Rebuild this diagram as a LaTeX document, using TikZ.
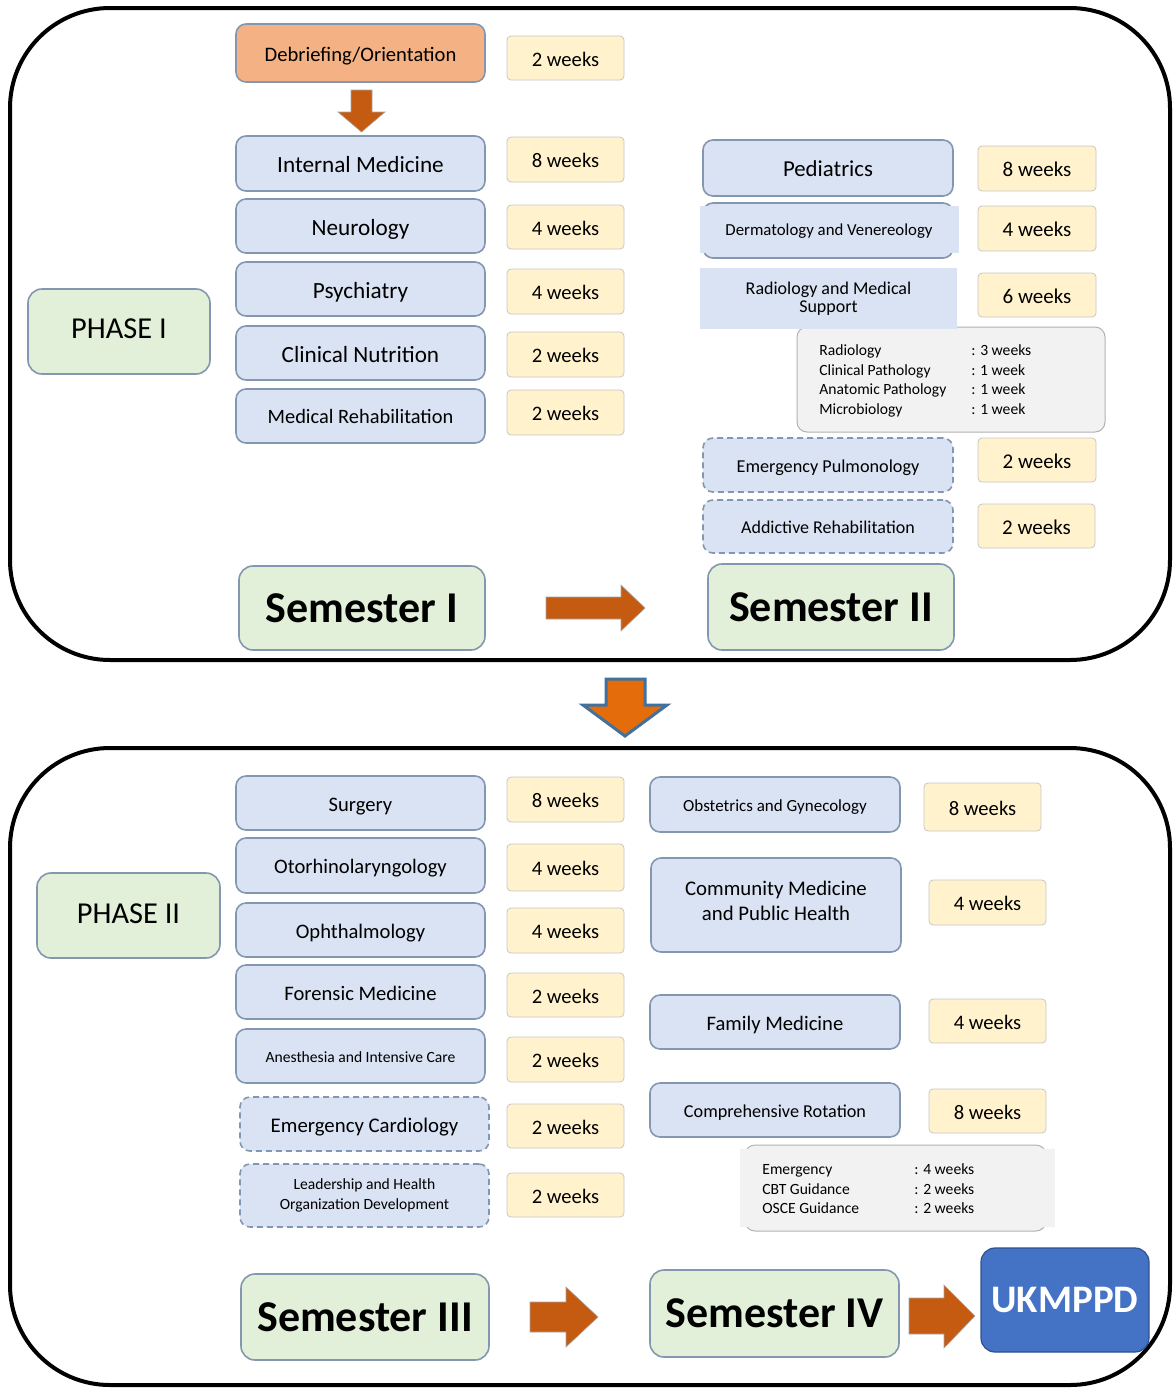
\documentclass[tikz,border=0pt]{standalone}
\usepackage{fontspec}
\setmainfont{Carlito}
\definecolor{bcol}{HTML}{8497B0}
\definecolor{bfill}{HTML}{DAE3F3}
\definecolor{yfill}{HTML}{FFF2CC}
\definecolor{gfill}{HTML}{E2F0D9}
\definecolor{ofill}{HTML}{F4B183}
\definecolor{sgray}{HTML}{F2F2F2}
\definecolor{arrowbrown}{HTML}{C55A11}
\definecolor{arrowor}{HTML}{E46C0A}
\definecolor{arrowedge}{HTML}{41719C}
\definecolor{ukfill}{HTML}{4472C4}
\definecolor{ukedge}{HTML}{2F528F}
\newcommand\pbox[7]{\node[#2, minimum width={(#5-#3)*0.5pt}, minimum height={(#6-#4)*0.5pt}] (#1) at ({(#3+#5)/2},{(#4+#6)/2}) {#7};}
\newcommand\fs[2]{\fontsize{#1}{#2}\selectfont}
\begin{document}
\begin{tikzpicture}[x=0.5pt,y=-0.5pt,
  bluebox/.style={draw=bcol, fill=bfill, line width=0.8pt, rounded corners=5pt, inner sep=0pt, align=center},
  dashbox/.style={bluebox, dash pattern=on 3pt off 2pt},
  sl/.style={font=\fontsize{#1}{#1}\selectfont, text height={#1*1pt}, text depth={#1*0.22pt}},
  wk/.style={fill=yfill, draw=black!22, line width=0.4pt, rounded corners=2pt, inner sep=0pt, sl=10.3},
  greenbox/.style={fill=gfill, draw=bcol, line width=0.8pt, rounded corners=7pt, inner sep=0pt},
  semtext/.style={font=\fs{22}{26}\bfseries},
  frame/.style={draw=black, line width=2pt, rounded corners=50pt},
  subbox/.style={fill=sgray, draw=black!30, line width=0.5pt, rounded corners=5pt, inner sep=0pt},
  plainfill/.style={fill=bfill, inner sep=0pt},
  subtext/.style={font=\fs{7.8}{9.8}, align=left, inner sep=0pt, anchor=west},
  blockarrow/.style={fill=arrowbrown, draw=black!35, line width=0.3pt}
]
\useasboundingbox (0,0) rectangle (1173,1388);
\fill[white] (0,0) rectangle (1173,1388);

% frames
\pbox{frameA}{frame}{10}{8}{1170}{660}{}
\pbox{frameB}{frame}{10}{748}{1170}{1385}{}

% ---------- Phase I, left column
\pbox{deb}{bluebox, fill=ofill, sl=10.3}{236}{24}{485}{82}{Debriefing/Orientation}
\pbox{debw}{wk}{507}{36}{624}{80}{2 weeks}
\pbox{im}{bluebox, sl=11.6}{236}{136}{485}{191}{Internal Medicine}
\pbox{imw}{wk}{507}{137}{624}{182}{8 weeks}
\pbox{neu}{bluebox, sl=11.6}{236}{199}{485}{253}{Neurology}
\pbox{neuw}{wk}{507}{205}{624}{249}{4 weeks}
\pbox{psy}{bluebox, sl=11.6}{236}{262}{485}{316}{Psychiatry}
\pbox{psyw}{wk}{507}{269}{624}{314}{4 weeks}
\pbox{cn}{bluebox, sl=11.6}{236}{326}{485}{380}{Clinical Nutrition}
\pbox{cnw}{wk}{507}{332}{624}{377}{2 weeks}
\pbox{mr}{bluebox, sl=10.2}{236}{389}{485}{443}{Medical Rehabilitation}
\pbox{mrw}{wk}{507}{390}{624}{435}{2 weeks}
\pbox{ph1}{greenbox}{28}{289}{210}{374}{}
\node[font=\fs{15.2}{18}, yshift=1.5pt] (ph1t) at (ph1.center) {PHASE I};

% small down arrow
\draw[blockarrow] (351,90) -- (372,90) -- (372,112) -- (385,112) -- (361.5,132) -- (338,112) -- (351,112) -- cycle;

% ---------- Phase I, right column
\pbox{ped}{bluebox, sl=11.4}{703}{140}{953}{196}{Pediatrics}
\pbox{pedw}{wk, sl=10.5}{978}{146}{1096}{191}{8 weeks}
\pbox{dvb}{bluebox}{703}{203}{953}{258}{}
\fill[bfill] (700,206) rectangle (959,253);
\node[sl=8.4] (dv) at (829,229) {Dermatology and Venereology};
\pbox{dvw}{wk, sl=10.5}{978}{206}{1096}{251}{4 weeks}
\pbox{radsub}{subbox}{797}{327}{1105}{432}{}
\pbox{rad}{plainfill, align=center, font=\fs{9}{9.2}}{700}{268}{957}{329}{Radiology and Medical\\Support}
\pbox{radw}{wk, sl=10.5}{978}{273}{1096}{317}{6 weeks}
\node[subtext] (radlist) at (819,381) {\makebox[76pt][l]{Radiology}: 3 weeks\\\makebox[76pt][l]{Clinical Pathology}: 1 week\\\makebox[76pt][l]{Anatomic Pathology}: 1 week\\\makebox[76pt][l]{Microbiology}: 1 week};
\pbox{ep}{dashbox, sl=9.1}{703}{438}{953}{492}{Emergency Pulmonology}
\pbox{epw}{wk, sl=10.5}{978}{438}{1096}{482}{2 weeks}
\pbox{ar}{dashbox, sl=9}{703}{500}{953}{553}{Addictive Rehabilitation}
\pbox{arw}{wk, sl=10.5}{978}{504}{1095}{548}{2 weeks}

% semesters I / II
\pbox{s1}{greenbox, semtext}{239}{566}{485}{650}{Semester I}
\pbox{s2}{greenbox, semtext}{708}{564}{954}{650}{Semester II}
\draw[blockarrow] (546,597) -- (621,597) -- (621,585) -- (645,608) -- (621,631) -- (621,619) -- (546,619) -- cycle;

% big down arrow
\draw[fill=arrowor, draw=arrowedge, line width=1.5pt, line join=miter] (606,679) -- (645,679) -- (645,705) -- (667,705) -- (625,736) -- (583,705) -- (606,705) -- cycle;

% ---------- Phase II, left column
\pbox{sur}{bluebox, sl=10.3}{236}{776}{485}{830}{Surgery}
\pbox{surw}{wk}{507}{777}{624}{822}{8 weeks}
\pbox{oto}{bluebox, sl=10.3}{236}{838}{485}{893}{Otorhinolaryngology}
\pbox{otow}{wk}{507}{844}{624}{891}{4 weeks}
\pbox{oph}{bluebox, sl=10.3}{236}{903}{485}{957}{Ophthalmology}
\pbox{ophw}{wk}{507}{908}{624}{953}{4 weeks}
\pbox{for}{bluebox, sl=10.3}{236}{965}{485}{1019}{Forensic Medicine}
\pbox{forw}{wk}{507}{973}{624}{1017}{2 weeks}
\pbox{ane}{bluebox, sl=7.8}{236}{1029}{485}{1083}{Anesthesia and Intensive Care}
\pbox{anew}{wk}{507}{1037}{624}{1082}{2 weeks}
\pbox{ec}{dashbox, sl=10.4}{240}{1097}{489}{1151}{Emergency Cardiology}
\pbox{ecw}{wk}{507}{1104}{624}{1148}{2 weeks}
\pbox{lhd}{dashbox, font=\fs{7.8}{10}}{240}{1164}{489}{1227}{Leadership and Health\\Organization Development}
\pbox{lhdw}{wk}{507}{1173}{624}{1217}{2 weeks}
\pbox{ph2}{greenbox}{37}{873}{220}{958}{}
\node[font=\fs{15.2}{18}, yshift=1pt] (ph2t) at (ph2.center) {PHASE II};

% ---------- Phase II, right column
\pbox{obg}{bluebox, sl=8.5}{650}{777}{900}{832}{Obstetrics and Gynecology}
\pbox{obgw}{wk}{924}{783}{1041}{831}{8 weeks}
\pbox{cm}{bluebox}{651}{858}{901}{952}{}
\node[font=\fs{10.4}{12.5}, align=center, yshift=2pt] (cmt) at (cm.center) {Community Medicine\\and Public Health};
\pbox{cmw}{wk}{929}{880}{1046}{925}{4 weeks}
\pbox{fm}{bluebox, sl=10.3}{650}{995}{900}{1049}{Family Medicine}
\pbox{fmw}{wk}{929}{999}{1046}{1043}{4 weeks}
\pbox{cr}{bluebox, sl=9.1}{650}{1083}{900}{1137}{Comprehensive Rotation}
\pbox{crw}{wk}{929}{1089}{1046}{1133}{8 weeks}
\pbox{crsubb}{subbox}{745}{1145}{1046}{1231}{}
\fill[sgray] (740,1149) rectangle (1055,1227);
\node[subtext] (crlist) at (762,1189) {\makebox[76pt][l]{Emergency}: 4 weeks\\\makebox[76pt][l]{CBT Guidance}: 2 weeks\\\makebox[76pt][l]{OSCE Guidance}: 2 weeks};

% semesters III / IV, UKMPPD
\pbox{s3}{greenbox, semtext}{241}{1274}{489}{1360}{Semester III}
\pbox{s4}{greenbox, semtext}{650}{1270}{899}{1357}{Semester IV}
\pbox{uk}{fill=ukfill, draw=ukedge, line width=0.6pt, rounded corners=7pt, text=white, font=\fs{19.5}{22}\bfseries}{981}{1248}{1149}{1352}{UKMPPD}
\draw[blockarrow] (530,1302) -- (566,1302) -- (566,1287) -- (598,1317) -- (566,1347) -- (566,1332) -- (530,1332) -- cycle;
\draw[blockarrow] (909,1298) -- (944,1298) -- (944,1285) -- (975,1316) -- (944,1348) -- (944,1334) -- (909,1334) -- cycle;
\end{tikzpicture}
\end{document}
